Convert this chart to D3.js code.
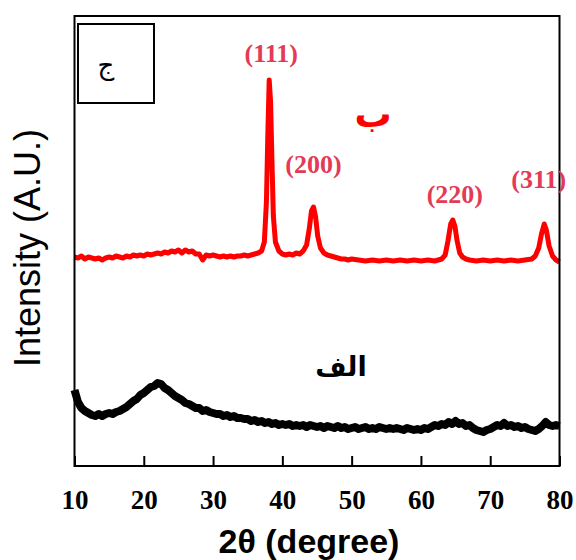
<!DOCTYPE html>
<html>
<head>
<meta charset="utf-8">
<script src="https://cdn.jsdelivr.net/npm/d3@7"></script>
<style>
body { margin: 0; background: #fff; }
</style>
</head>
<body>
<script>
const w = 576;
const h = 560;

// 2theta (deg), intensity (a.u.)
const sampleB = [
  [10,209],[10.5,208],[11,210],[11.5,207],[12,209],[12.5,208],[13,207],[13.5,208],[14,206],[14.5,208],
  [15,209],[15.5,208],[16,210],[16.5,209],[17,208],[17.5,210],[18,209],[18.5,211],[19,210],[19.5,211],
  [20,210],[20.5,212],[21,211],[21.5,212],[22,213],[22.5,212],[23,214],[23.5,213],[24,215],[24.5,214],
  [25,216],[25.5,213],[26,216],[26.5,214],[27,215],[27.5,212],[28,212],[28.5,206],[29,211],[29.5,210],
  [30,211],[30.5,210],[31,209],[31.5,210],[32,209],[32.5,210],[33,209],[33.5,210],[34,210],[34.5,211],
  [35,210],[35.5,211],[36,212],[36.5,213],[37,215],[37.4,224],[37.7,264],[37.9,330],[38.1,386],[38.3,364],
  [38.5,305],[38.7,250],[39,224],[39.5,215],[40,212],[40.5,211],[41,212],[41.5,211],[42,213],[42.5,212],
  [43,215],[43.5,221],[43.9,238],[44.2,255],[44.5,259],[44.8,249],[45.1,230],[45.5,218],[46,213],[46.5,211],
  [47,210],[47.5,209],[48,208],[48.5,207],[49,207],[49.5,206],[50,207],[51,206],[52,205],[53,206],
  [54,205],[55,206],[56,205],[57,206],[58,205],[59,206],[60,205],[61,206],[62,205],[63,207],
  [63.5,211],[63.9,225],[64.3,242],[64.6,246],[64.9,240],[65.2,226],[65.6,213],[66,209],[66.5,207],[67,206],
  [68,205],[69,206],[70,205],[71,206],[72,205],[73,206],[74,205],[75,206],[76,207],[76.5,210],
  [77,218],[77.4,232],[77.8,242],[78.1,236],[78.5,220],[79,210],[79.5,206],[80,204]
];

const sampleA = [
  [10,76],[10.25,70],[10.5,64],[11,58],[11.5,55],[12,53],[12.5,51],[13,50],[13.5,52],[14,50],
  [14.5,52],[15,53],[15.5,52],[16,54],[16.5,55],[17,57],[17.5,59],[18,62],[18.5,65],[19,67],
  [19.5,71],[20,73],[20.5,76],[21,79],[21.5,80],[22,83],[22.5,82],[23,78],[23.5,76],[24,73],
  [24.5,70],[25,68],[25.5,66],[26,63],[26.5,62],[27,60],[27.5,58],[28,58],[28.5,55],[29,56],
  [29.5,54],[30,53],[30.5,52],[31,52],[31.5,50],[32,51],[32.5,49],[33,50],[33.5,48],[34,48],
  [34.5,47],[35,47],[35.5,45],[36,46],[36.5,44],[37,45],[37.5,43],[38,44],[38.5,42],[39,43],
  [39.5,41],[40,42],[40.5,41],[41,42],[41.5,40],[42,41],[42.5,40],[43,41],[43.5,39],[44,41],
  [44.5,40],[45,39],[45.5,40],[46,38],[46.5,40],[47,39],[47.5,38],[48,40],[48.5,38],[49,39],
  [49.5,37],[50,38],[50.5,39],[51,37],[51.5,38],[52,39],[52.5,37],[53,38],[53.5,37],[54,39],
  [54.5,38],[55,37],[55.5,38],[56,37],[56.5,38],[57,37],[57.5,36],[58,38],[58.5,37],[59,36],
  [59.5,37],[60,36],[60.5,38],[61,37],[61.5,39],[62,41],[62.5,40],[63,42],[63.5,41],[64,44],
  [64.5,42],[65,45],[65.5,42],[66,43],[66.5,40],[67,41],[67.5,38],[68,36],[68.5,35],[69,34],
  [69.5,36],[70,37],[70.5,39],[71,41],[71.5,40],[72,43],[72.5,40],[73,41],[73.5,39],[74,40],
  [74.5,38],[75,39],[75.5,37],[76,36],[76.5,35],[77,37],[77.5,40],[78,44],[78.5,41],[79,40],
  [79.5,41],[80,40]
];

const xTicks = [10, 20, 30, 40, 50, 60, 70, 80];

// peak labels: hkl, angle, intensity where text sits
const peakNames = ['(111)', '(200)', '(220)', '(311)'];
const peakAngle = [38.4, 44.5, 64.9, 77.0];
const peakLabelY = [404, 293, 263, 278];

const x = d3.scaleLinear().domain([10, 80]).range([74.5, 559.5]);
const y = d3.scaleLinear().domain([0, 450]).range([466, 16]);

const svg = d3.select('body').append('svg').attr('width', w).attr('height', h);

const line = d3.line().x(d => x(d[0])).y(d => y(d[1]));

svg.append('path').datum(sampleA)
  .attr('d', line).attr('fill', 'none').attr('stroke', '#000')
  .attr('stroke-width', 8).attr('stroke-linejoin', 'round');

svg.append('path').datum(sampleB)
  .attr('d', line).attr('fill', 'none').attr('stroke', '#ff0000')
  .attr('stroke-width', 5).attr('stroke-linejoin', 'round');

// inward ticks
const axis = svg.append('g').attr('transform', 'translate(0,' + y(0) + ')')
  .call(d3.axisBottom(x).tickValues(xTicks).tickSize(-10).tickPadding(24).tickFormat(d3.format('d')));
axis.select('.domain').remove();
axis.selectAll('line').attr('stroke', '#000').attr('stroke-width', 2);
axis.selectAll('text')
  .attr('font-family', '"Liberation Serif", "Times New Roman", serif')
  .attr('font-weight', 'bold').attr('font-size', 27).attr('fill', '#000');

// frame
svg.append('rect')
  .attr('x', x(10)).attr('y', y(450))
  .attr('width', x(80) - x(10)).attr('height', y(0) - y(450))
  .attr('fill', 'none').attr('stroke', '#000').attr('stroke-width', 2);

// inset box
svg.append('rect').attr('x', 78).attr('y', 24).attr('width', 76).attr('height', 79)
  .attr('fill', 'none').attr('stroke', '#000').attr('stroke-width', 2);
svg.append('text').attr('x', 106).attr('y', 74).attr('text-anchor', 'middle')
  .attr('font-family', '"DejaVu Sans", sans-serif').attr('font-size', 26).text('ج');

svg.selectAll('.hkl').data(peakNames).enter().append('text')
  .attr('class', 'hkl')
  .attr('x', (d, i) => x(peakAngle[i]))
  .attr('y', (d, i) => y(peakLabelY[i]))
  .attr('text-anchor', 'middle')
  .attr('font-family', '"Liberation Serif", "Times New Roman", serif')
  .attr('font-weight', 'bold').attr('font-size', 26).attr('fill', '#e43a55')
  .text(d => d);

svg.append('text').attr('x', 373).attr('y', 127).attr('text-anchor', 'middle')
  .attr('font-family', '"DejaVu Sans", sans-serif').attr('font-weight', 'bold')
  .attr('font-size', 37).attr('fill', '#ff0000').text('ب');

svg.append('text').attr('x', 341).attr('y', 376).attr('text-anchor', 'middle')
  .attr('font-family', '"DejaVu Sans", sans-serif').attr('font-weight', 'bold')
  .attr('font-size', 27).attr('fill', '#000').text('الف');

svg.append('text').attr('x', 309).attr('y', 553).attr('text-anchor', 'middle')
  .attr('font-family', '"Liberation Sans", Arial, sans-serif').attr('font-weight', 'bold')
  .attr('font-size', 34).attr('fill', '#000').text('2θ (degree)');

svg.append('text').attr('transform', 'translate(40,248) rotate(-90)')
  .attr('text-anchor', 'middle')
  .attr('font-family', '"Liberation Sans", Arial, sans-serif')
  .attr('font-size', 36).attr('fill', '#000').text('Intensity (A.U.)');
</script>
</body>
</html>
